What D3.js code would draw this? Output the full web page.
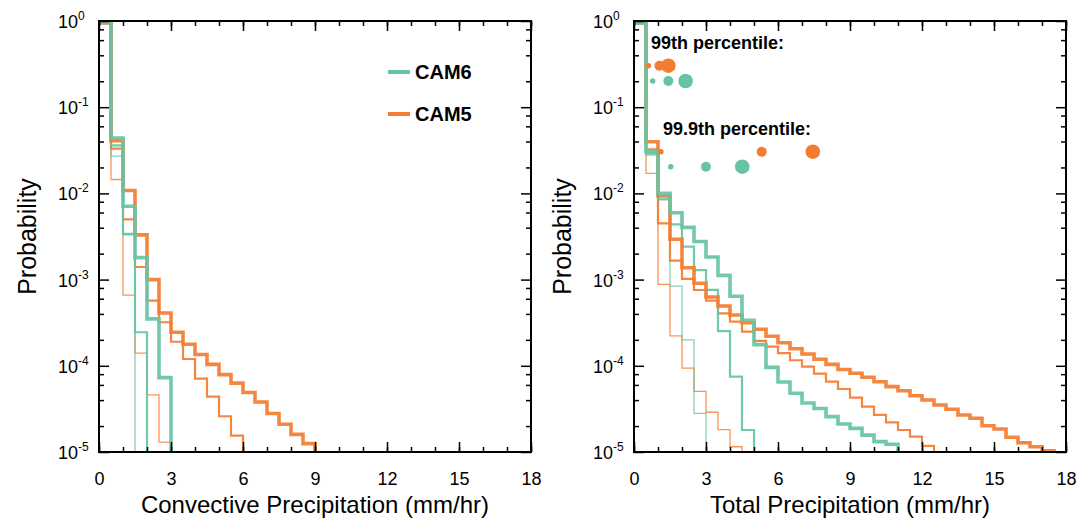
<!DOCTYPE html>
<html>
<head>
<meta charset="utf-8">
<script src="https://cdn.jsdelivr.net/npm/d3@7"></script>
<style>
body { margin: 0; background: #fff; }
text { font-family: "Liberation Sans", Arial, Helvetica, sans-serif; fill: #000; }
</style>
</head>
<body>
<div class="chart"></div>
<script>
// bin width of the histograms, mm/hr
var binWidth = 0.5;
var xTicks = [0, 3, 6, 9, 12, 15, 18];
var yTickExps = [0, -1, -2, -3, -4, -5];
var legendNames = ["CAM6", "CAM5"];

// convective precipitation, probability per 0.5 mm/hr bin starting at 0
var convCam6Thick  = [0.96, 0.044, 0.0071, 0.0018, 3.5e-4, 7.3e-5];
var convCam6Medium = [0.95, 0.036, 0.0034, 2.45e-4];
var convCam6Thin   = [0.95, 0.027, 0.0033];
var convCam5Thick  = [0.95, 0.041, 0.0108, 0.0033, 1.0e-3, 4.1e-4, 2.45e-4, 1.78e-4, 1.35e-4, 1.04e-4,
                      7.9e-5, 6.3e-5, 4.9e-5, 3.8e-5, 2.8e-5, 2.1e-5, 1.6e-5, 1.25e-5];
var convCam5Medium = [0.95, 0.033, 0.0050, 0.0014, 5.7e-4, 3.2e-4, 1.9e-4, 1.2e-4, 7.1e-5, 4.4e-5, 2.6e-5, 1.55e-5];
var convCam5Thin   = [0.95, 0.0145, 6.6e-4, 1.4e-4, 4.6e-5, 1.3e-5];

// total precipitation
var totCam6Thick  = [0.95, 0.0305, 0.0100, 0.00597, 0.00404, 0.00277, 0.00183, 0.00112, 6.4e-4, 3.37e-4, 1.76e-4,
                     9.6e-5, 6.5e-5, 4.8e-5, 3.7e-5, 3.2e-5, 2.57e-5, 2.11e-5, 1.88e-5, 1.57e-5, 1.32e-5, 1.23e-5];
var totCam6Medium = [0.95, 0.0292, 0.00855, 0.00438, 0.00241, 0.00129, 7.6e-4, 2.53e-4, 7.5e-5, 1.8e-5];
var totCam6Thin   = [0.95, 0.0279, 0.0085, 8.4e-4, 2.0e-4, 2.8e-5];
var totCam5Thick  = [0.95, 0.0398, 0.00933, 0.00294, 0.00137, 9.06e-4, 6.28e-4, 4.94e-4, 3.88e-4, 3.16e-4, 2.66e-4,
                     2.20e-4, 1.85e-4, 1.58e-4, 1.37e-4, 1.19e-4, 1.04e-4, 9.06e-5, 8.18e-5, 7.36e-5, 6.54e-5,
                     5.73e-5, 5.14e-5, 4.50e-5, 4.01e-5, 3.51e-5, 3.13e-5, 2.69e-5, 2.46e-5, 2.02e-5, 1.85e-5,
                     1.48e-5, 1.28e-5, 1.15e-5, 1.03e-5];
var totCam5Medium = [0.95, 0.0325, 0.0045, 0.00166, 0.00102, 7.57e-4, 5.69e-4, 4.06e-4, 3.25e-4, 2.49e-4, 1.95e-4,
                     1.67e-4, 1.40e-4, 1.16e-4, 9.77e-5, 8.10e-5, 6.54e-5, 5.38e-5, 4.27e-5, 3.36e-5, 2.69e-5,
                     2.21e-5, 1.80e-5, 1.51e-5, 1.18e-5];
var totCam5Thin   = [0.95, 0.0171, 8.82e-4, 2.22e-4, 9.42e-5, 5.06e-5, 2.89e-5, 1.82e-5, 1.15e-5];

// percentile values (mm/hr), order thin / medium / thick
var p99Cam5  = [0.6, 1.06, 1.43];
var p99Cam6  = [0.78, 1.43, 2.15];
var p999Cam5 = [1.12, 5.32, 7.45];
var p999Cam6 = [1.53, 3.0, 4.51];

var W = 1088, H = 520;
var colors = { CAM6: "#66c4a3", CAM5: "#f47c30" };
var widths = { thin: 1.3, medium: 2.2, thick: 3.6 };
var dotR = [2.7, 5, 7.3];

var svg = d3.select(".chart").append("svg")
    .attr("width", W).attr("height", H);

function drawPanel(left, xTitle, series, id) {
    var top = 21, bottom = 452, right = left + 432;
    var x = d3.scaleLinear().domain([0, 18]).range([left, right]);
    var y = d3.scaleLog().domain([1e-5, 1]).range([bottom, top]);
    var g = svg.append("g");

    g.append("clipPath").attr("id", "clip" + id)
        .append("rect").attr("x", left).attr("y", top)
        .attr("width", right - left).attr("height", bottom - top);

    var line = d3.line()
        .x(function(d){ return x(d[0]); })
        .y(function(d){ return y(Math.max(d[1], 1e-5)); })
        .curve(d3.curveStepAfter);

    var lines = g.append("g").attr("clip-path", "url(#clip" + id + ")");
    series.forEach(function(s){
        var pts = s.values.map(function(v, i){ return [i * binWidth, v]; });
        pts.push([s.values.length * binWidth, 1e-5]);
        lines.append("path")
            .attr("d", line(pts))
            .attr("fill", "none")
            .attr("stroke", colors[s.model])
            .attr("stroke-width", widths[s.res])
            .attr("stroke-opacity", s.res == "thin" ? 0.8 : 0.92)
            .attr("stroke-linejoin", "miter");
    });

    // minor + major ticks on all four sides, pointing inward
    var minorX = d3.range(0, 19, 1);
    var minorY = [];
    yTickExps.forEach(function(e){
        if (e > -5) [2, 4, 6, 8].forEach(function(m){ minorY.push(m * Math.pow(10, e - 1)); });
    });
    var majorY = yTickExps.map(function(e){ return Math.pow(10, e); });

    g.append("g").attr("transform", "translate(0," + bottom + ")")
        .call(d3.axisBottom(x).tickValues(minorX).tickSize(-5).tickFormat(""));
    g.append("g").attr("transform", "translate(0," + top + ")")
        .call(d3.axisTop(x).tickValues(minorX).tickSize(-5).tickFormat(""));
    g.append("g").attr("transform", "translate(0," + top + ")")
        .call(d3.axisTop(x).tickValues(xTicks).tickSize(-10).tickFormat(""));
    var xa = g.append("g").attr("transform", "translate(0," + bottom + ")")
        .call(d3.axisBottom(x).tickValues(xTicks).tickSize(-10).tickPadding(20).tickFormat(d3.format("d")));
    xa.selectAll("text").style("font-size", "18px").style("font-family", "Liberation Sans, Arial, sans-serif");

    [left, right].forEach(function(px, k){
        var ax = k == 0 ? d3.axisLeft : d3.axisRight;
        g.append("g").attr("transform", "translate(" + px + ",0)")
            .call(ax(y).tickValues(minorY).tickSize(-5).tickFormat(""));
        g.append("g").attr("transform", "translate(" + px + ",0)")
            .call(ax(y).tickValues(majorY).tickSize(-10).tickFormat(""));
    });
    g.selectAll(".domain").remove();
    g.selectAll(".tick line").attr("stroke", "#000").attr("stroke-width", 1.5);

    g.append("rect")
        .attr("x", left).attr("y", top)
        .attr("width", right - left).attr("height", bottom - top)
        .attr("fill", "none").attr("stroke", "#000").attr("stroke-width", 2);

    // y tick labels 10^n
    yTickExps.forEach(function(e){
        var t = g.append("text")
            .attr("x", left - 41).attr("y", y(Math.pow(10, e)) + 7)
            .style("font-size", "18px");
        t.append("tspan").text("10");
        t.append("tspan").attr("dy", -8).style("font-size", "12px").text(e == 0 ? "0" : "-" + (-e));
    });

    g.append("text")
        .attr("x", (left + right) / 2).attr("y", 513)
        .attr("text-anchor", "middle")
        .style("font-size", "24px")
        .text(xTitle);
    g.append("text")
        .attr("transform", "translate(" + (left - 63) + "," + ((top + bottom) / 2) + ") rotate(-90)")
        .attr("text-anchor", "middle")
        .style("font-size", "25px")
        .text("Probability");

    return { x: x, y: y, g: g };
}

var leftPanel = drawPanel(99, "Convective Precipitation (mm/hr)", [
    { model: "CAM5", res: "thin", values: convCam5Thin },
    { model: "CAM6", res: "thin", values: convCam6Thin },
    { model: "CAM5", res: "medium", values: convCam5Medium },
    { model: "CAM6", res: "medium", values: convCam6Medium },
    { model: "CAM5", res: "thick", values: convCam5Thick },
    { model: "CAM6", res: "thick", values: convCam6Thick }
], "L");

var rightPanel = drawPanel(634, "Total Precipitation (mm/hr)", [
    { model: "CAM5", res: "thin", values: totCam5Thin },
    { model: "CAM6", res: "thin", values: totCam6Thin },
    { model: "CAM5", res: "medium", values: totCam5Medium },
    { model: "CAM6", res: "medium", values: totCam6Medium },
    { model: "CAM5", res: "thick", values: totCam5Thick },
    { model: "CAM6", res: "thick", values: totCam6Thick }
], "R");

// legend
legendNames.forEach(function(name, i){
    var ly = 72 + i * 42;
    svg.append("line")
        .attr("x1", 388).attr("x2", 410).attr("y1", ly).attr("y2", ly)
        .attr("stroke", colors[name]).attr("stroke-width", 4);
    svg.append("text")
        .attr("x", 415).attr("y", ly + 7)
        .style("font-size", "20px").style("font-weight", "bold")
        .text(name);
});

// percentile dots
var rg = rightPanel.g, rx = rightPanel.x;
rg.append("text").attr("x", 651).attr("y", 49)
    .style("font-size", "18px").style("font-weight", "bold").text("99th percentile:");
rg.append("text").attr("x", 663).attr("y", 135)
    .style("font-size", "18px").style("font-weight", "bold").text("99.9th percentile:");

function dots(vals, cy, model) {
    rg.selectAll(null).data(vals).enter().append("circle")
        .attr("cx", function(d){ return rx(d); })
        .attr("cy", cy)
        .attr("r", function(d, i){ return dotR[i]; })
        .attr("fill", colors[model]);
}
dots(p99Cam5, 65.7, "CAM5");
dots(p99Cam6, 81, "CAM6");
dots(p999Cam5, 151.7, "CAM5");
dots(p999Cam6, 166.7, "CAM6");
</script>
</body>
</html>
